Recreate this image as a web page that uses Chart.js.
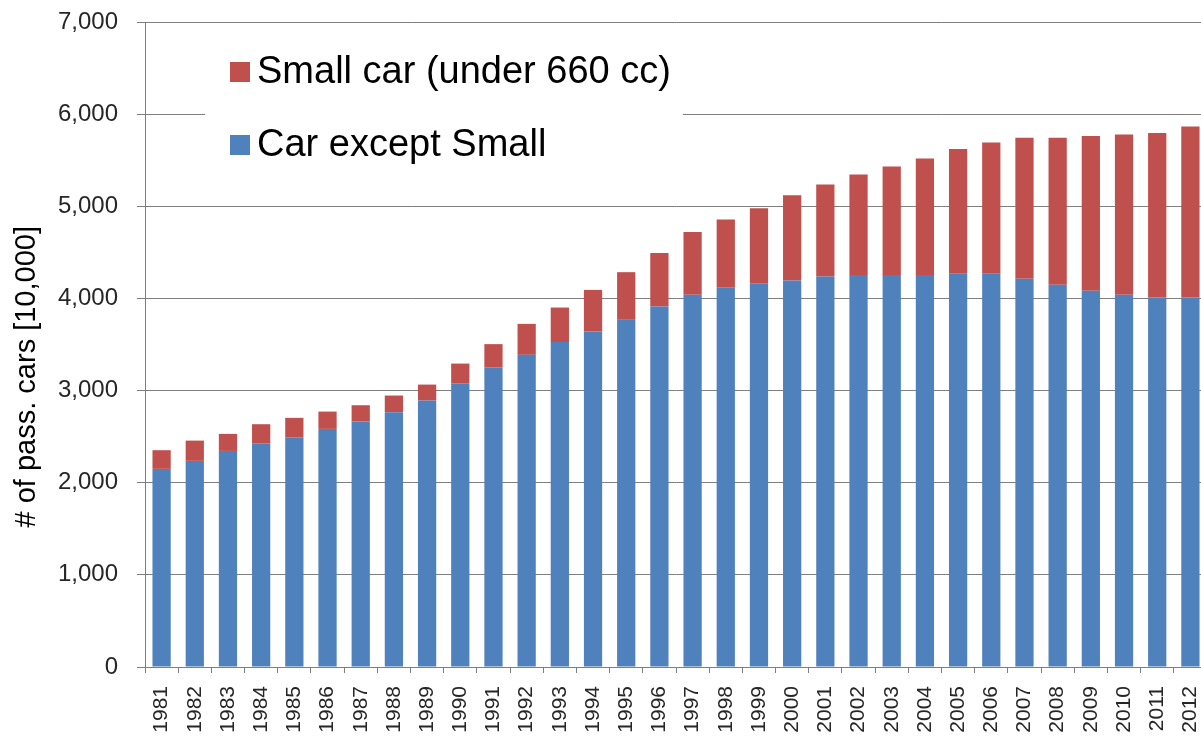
<!DOCTYPE html>
<html>
<head>
<meta charset="utf-8">
<script src="https://cdn.jsdelivr.net/npm/chart.js@4.4.0/dist/chart.umd.min.js"></script>
<style>
  html, body { margin: 0; padding: 0; background: #fff; overflow: hidden; }
</style>
</head>
<body>
<canvas id="barChart" width="1207" height="743"></canvas>
<script>
// data (unit: 10,000 cars)
const years = ["1981", "1982", "1983", "1984", "1985", "1986", "1987", "1988", "1989", "1990",
    "1991", "1992", "1993", "1994", "1995", "1996", "1997", "1998", "1999", "2000",
    "2001", "2002", "2003", "2004", "2005", "2006", "2007", "2008", "2009", "2010", "2011", "2012"];

const carExceptSmall = [2150, 2237, 2345, 2429, 2490, 2584, 2664, 2765, 2892, 3080,
    3254, 3388, 3526, 3641, 3768, 3912, 4039, 4122, 4166, 4195,
    4238, 4253, 4253, 4253, 4267, 4267, 4213, 4148, 4083, 4039, 4010, 4010];

const smallCar = [203, 220, 185, 206, 214, 188, 177, 181, 173, 213,
    250, 336, 375, 452, 517, 580, 681, 735, 814, 926,
    999, 1093, 1179, 1266, 1354, 1426, 1531, 1596, 1679, 1741, 1785, 1857];

const yTicks = [0, 1000, 2000, 3000, 4000, 5000, 6000, 7000];

const gridGray = '#7f7f7f';
const font = "'Liberation Sans', Arial, sans-serif";

// legend drawn on a white box over the gridlines, like the original
const boxLegend = {
    id: 'boxLegend',
    beforeDatasetsDraw(chart) {
        const ctx = chart.ctx;
        ctx.save();
        ctx.fillStyle = '#fff';
        ctx.fillRect(205, 36, 478, 138);
        const items = [
            { ds: chart.data.datasets[1], y: 72 },
            { ds: chart.data.datasets[0], y: 145 }
        ];
        ctx.font = "38px " + font;
        ctx.textBaseline = 'middle';
        items.forEach(function(it) {
            ctx.fillStyle = it.ds.backgroundColor;
            ctx.fillRect(230, it.y - 10, 20, 20);
            ctx.fillStyle = '#000';
            ctx.fillText(it.ds.label, 257, it.y + 1);
        });
        ctx.restore();
    }
};

const element = document.getElementById("barChart");

const myChart = new Chart(element, {
    type: 'bar',
    data: {
        labels: years,
        datasets: [{
            label: 'Car except Small',
            data: carExceptSmall,
            backgroundColor: '#4F81BD',
            barPercentage: 0.55,
            categoryPercentage: 1
        }, {
            label: 'Small car (under 660 cc)',
            data: smallCar,
            backgroundColor: '#C0504D',
            barPercentage: 0.55,
            categoryPercentage: 1
        }]
    },
    plugins: [boxLegend],
    options: {
        responsive: false,
        animation: false,
        layout: { padding: { top: 22, right: 0, left: 0, bottom: 0 } },
        plugins: {
            legend: { display: false },
            tooltip: { enabled: false }
        },
        scales: {
            x: {
                stacked: true,
                afterFit(s) { s.height = 76; s.paddingLeft = 0; s.paddingRight = 0; },
                grid: {
                    drawOnChartArea: false,
                    drawTicks: true,
                    tickLength: 6,
                    color: gridGray
                },
                border: { color: gridGray },
                ticks: {
                    minRotation: 90,
                    maxRotation: 90,
                    autoSkip: false,
                    padding: 13,
                    color: '#262626',
                    font: { family: font, size: 21 }
                }
            },
            y: {
                stacked: true,
                min: 0,
                max: 7000,
                afterFit(s) { s.width = 145; s.paddingTop = 0; s.paddingBottom = 0; },
                afterBuildTicks(s) { s.ticks = yTicks.map(v => ({ value: v })); },
                grid: { color: gridGray, tickLength: 8 },
                border: { color: gridGray },
                ticks: {
                    padding: 19,
                    color: '#262626',
                    font: { family: font, size: 24 },
                    callback: v => v.toLocaleString('en-US')
                },
                title: {
                    display: true,
                    text: '# of pass. cars [10,000]        ',
                    color: '#000',
                    padding: { top: 10, bottom: 0 },
                    font: { family: font, size: 29 }
                }
            }
        }
    }
});
</script>
</body>
</html>
